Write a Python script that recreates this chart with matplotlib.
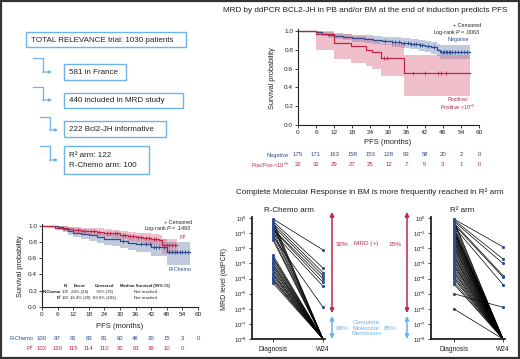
import numpy as np
import matplotlib
matplotlib.use('Agg')
import matplotlib.pyplot as plt
from matplotlib import transforms
from matplotlib.patches import Rectangle

plt.rcParams['font.family'] = ['Liberation Sans', 'DejaVu Sans']
plt.rcParams['mathtext.fontset'] = 'custom'
plt.rcParams['mathtext.rm'] = 'Liberation Sans'
plt.rcParams['mathtext.it'] = 'Liberation Sans:italic'
plt.rcParams['mathtext.bf'] = 'Liberation Sans:bold'

W, H = 520, 359
NAVY = '#2c4c8c'
RED = '#c0254a'
SKY = '#6db3e8'
INK = '#222222'

# ---- flowchart ----
flow_lines = ['TOTAL RELEVANCE trial: 1030 patients', '581 in France',
              '440 included in MRD study', '222 Bcl2-JH informative',
              'R² arm: 122\nR-Chemo arm: 100']

# ---- top KM: MRD negative vs positive ----
months = [0, 6, 12, 18, 24, 30, 36, 42, 48, 54, 60]
neg_risk = [175, 171, 163, 158, 153, 128, 93, 58, 20, 2, 0]
pos_risk = [32, 32, 29, 27, 25, 12, 7, 5, 3, 1, 0]

neg_t = [0, 6, 8, 10, 12, 15, 18, 22, 25, 28, 31, 34, 37, 40, 42, 44, 46, 47, 57]
neg_s = [1.0, 0.985, 0.97, 0.955, 0.945, 0.935, 0.925, 0.915, 0.905, 0.895, 0.885,
         0.875, 0.865, 0.855, 0.84, 0.825, 0.80, 0.78, 0.78]
neg_lo = [1.0, 0.96, 0.945, 0.925, 0.91, 0.90, 0.885, 0.87, 0.86, 0.845, 0.83,
          0.82, 0.805, 0.79, 0.775, 0.755, 0.73, 0.705, 0.705]
neg_hi = [1.0, 1.0, 0.99, 0.985, 0.975, 0.97, 0.96, 0.955, 0.945, 0.94, 0.93,
          0.92, 0.915, 0.905, 0.895, 0.88, 0.86, 0.845, 0.845]
neg_cens = [29, 31, 32, 33.5, 35, 36.5, 37.5, 38.5, 39, 40.5, 41, 43, 45, 47.5, 48,
            48.5, 49, 49.5, 50, 50.5, 51, 52, 53, 54, 55, 56]

pos_t = [0, 6, 12, 17.5, 22.5, 24.5, 27.5, 35, 57]
pos_s = [1.0, 0.969, 0.875, 0.844, 0.80, 0.78, 0.71, 0.555, 0.555]
pos_lo = [1.0, 0.80, 0.70, 0.66, 0.63, 0.60, 0.52, 0.31, 0.31]
pos_hi = [1.0, 1.0, 0.97, 0.95, 0.92, 0.90, 0.86, 0.74, 0.74]
pos_cens = [28.5, 29.5, 38, 42, 46.5, 47.5, 49]

# ---- bottom-left KM: R-Chemo vs R2 ----
rc_risk = [100, 97, 91, 83, 81, 60, 46, 30, 15, 3, 0]
r2_risk = [102, 120, 115, 114, 110, 92, 63, 39, 10, 0]

rc_t = [0, 6, 8, 10, 12, 15, 18, 21, 24, 27, 30, 33, 36, 42, 48, 57]
rc_s = [1.0, 0.98, 0.96, 0.94, 0.915, 0.90, 0.88, 0.86, 0.84, 0.83, 0.81, 0.79,
        0.77, 0.74, 0.68, 0.68]
rc_lo = [1.0, 0.95, 0.92, 0.89, 0.86, 0.84, 0.81, 0.79, 0.76, 0.745, 0.72, 0.70,
         0.68, 0.63, 0.52, 0.52]
rc_hi = [1.0, 1.0, 0.99, 0.98, 0.965, 0.955, 0.94, 0.925, 0.91, 0.90, 0.89, 0.875,
         0.86, 0.84, 0.80, 0.80]
rc_cens = [31, 38, 40, 41.5, 43, 44, 45, 47, 49, 50, 51, 52, 53, 54, 55, 56]

r2_t = [0, 3, 5, 8, 10, 12, 15, 18, 21, 24, 27, 30, 33, 36, 39, 42, 45, 46, 52]
r2_s = [1.0, 0.99, 0.975, 0.965, 0.955, 0.95, 0.94, 0.935, 0.925, 0.915, 0.905,
        0.89, 0.875, 0.865, 0.85, 0.835, 0.82, 0.76, 0.76]
r2_lo = [1.0, 0.97, 0.95, 0.935, 0.92, 0.91, 0.90, 0.89, 0.875, 0.865, 0.85,
         0.83, 0.815, 0.80, 0.78, 0.76, 0.74, 0.65, 0.65]
r2_hi = [1.0, 1.0, 0.995, 0.99, 0.985, 0.98, 0.975, 0.97, 0.965, 0.955, 0.945,
         0.935, 0.925, 0.915, 0.905, 0.895, 0.885, 0.84, 0.84]
r2_cens = [14, 16, 19, 20, 22, 25, 26, 28, 29, 31, 32, 34, 35, 37, 38, 40, 41,
           43, 44, 47, 48, 49, 50, 51]

# summary table under the bottom-left curves
tbl_head = ['N', 'Event', 'Censored', 'Median Survival (95% CI)']
tbl_rows = [('R-Chemo', ['100', '24% (24)', '76% (76)', 'Not reached']),
            ('R²', ['122', '16.4% (20)', '83.6% (102)', 'Not reached'])]

# ---- MRD levels (log10) ----
rc_dx = [-0.05, -0.15, -0.2, -0.3, -0.35, -0.45, -0.5, -0.6, -0.7, -0.75, -0.85,
         -0.95, -1.05, -1.2, -1.3, -1.45, -2.45, -2.6, -2.7, -2.85, -3.0, -3.1,
         -3.2, -3.35, -3.45, -3.6, -3.7, -3.8, -3.95, -4.05, -4.15, -4.3]
rc_w24 = [-2.1, -8, -3.3, -8, -3.6, -8, -3.8, -8, -4.0, -4.25, -8, -4.5, -8, -5.9,
          -8, -8, -8, -8, -8, -8, -8, -8, -8, -8, -8, -8, -8, -8, -8, -8, -8, -8]
r2_dx = [-0.05, -0.1, -0.12, -0.2, -0.25, -0.3, -0.4, -0.45, -0.55, -0.6, -0.7,
         -0.8, -0.85, -0.95, -1.0, -1.1, -1.2, -1.3, -1.4, -1.5, -1.55, -1.7, -1.8,
         -1.9, -2.0, -2.15, -2.25, -2.4, -2.5, -2.6, -2.75, -2.85, -3.0, -3.1, -3.2,
         -3.35, -3.5, -3.6, -3.75, -3.9, -4.0, -4.2, -4.35, -5.0, -6.0]
r2_w24 = [-1.9, -2.7, -8, -3.0, -8, -3.8, -3.9, -8, -4.4, -8, -8, -8, -8, -8, -8,
          -8, -8, -8, -8, -8, -8, -8, -8, -8, -8, -8, -8, -8, -8, -8, -8, -8, -8,
          -8, -8, -8, -8, -8, -8, -8, -8, -8, -8, -5.9, -8]
mrd_decades = [0, -1, -2, -3, -4, -5, -6, -7, -8]

fig = plt.figure(figsize=(W / 100, H / 100), dpi=100)


def px_axes(x0, y0, x1, y1):
    return fig.add_axes([x0 / W, 1 - y1 / H, (x1 - x0) / W, (y1 - y0) / H])


def style(ax):
    for side in ('top', 'right'):
        ax.spines[side].set_visible(False)
    for side in ('left', 'bottom'):
        ax.spines[side].set_linewidth(0.8)
        ax.spines[side].set_color(INK)
    ax.tick_params(labelsize=4.6, length=2, width=0.6, pad=1.5, colors=INK)


def km(ax, t, s, lo, hi, cens, color, fill, alpha):
    ax.fill_between(t, lo, hi, step='post', color=fill, alpha=alpha, lw=0)
    ax.step(t, s, where='post', color=color, lw=0.9)
    idx = np.searchsorted(t, cens, side='right') - 1
    ax.plot(cens, np.asarray(s)[idx], ls='none', marker='|', ms=2.4, mew=0.6,
            color=color)


def km_axes(ax):
    ax.set_xlim(0, 60)
    ax.set_ylim(0, 1.02)
    ax.set_xticks(months)
    ax.set_yticks([0, 0.2, 0.4, 0.6, 0.8, 1.0])
    ax.set_yticklabels(['0.0', '0.2', '0.4', '0.6', '0.8', '1.0'])
    style(ax)


def mrd(ax, dx, w24, left):
    for a, b in zip(dx, w24):
        ax.plot([0, 1], [10.0 ** a, 10.0 ** b], color='black', lw=0.5)
    ax.plot(np.zeros(len(dx)), 10.0 ** np.array(dx), 's', ms=1.1, color=NAVY)
    ax.plot(np.ones(len(w24)), 10.0 ** np.array(w24), 's', ms=1.1, color=NAVY)
    ax.set_yscale('log')
    ax.set_ylim(1e-8, 1.2)
    ax.set_xlim(left, 1.04)
    ax.set_yticks([10.0 ** d for d in mrd_decades])
    ax.set_yticklabels([r'$10^{%d}$' % d for d in mrd_decades])
    ax.minorticks_off()
    ax.set_xticks([0, 1])
    ax.set_xticklabels(['Diagnosis', 'W24'])
    style(ax)
    ax.spines['left'].set_linewidth(1.3)
    ax.spines['bottom'].set_linewidth(1.3)
    ax.tick_params(axis='y', labelsize=4.2)
    ax.tick_params(axis='x', labelsize=4.8, pad=3)


# overlay for free text, boxes and arrows (pixel coordinates)
ov = fig.add_axes([0, 0, 1, 1], zorder=5)
ov.set_xlim(0, W)
ov.set_ylim(H, 0)
ov.axis('off')

# ---------- flowchart ----------
boxes = [(26, 32, 186, 47), (64, 64, 126, 80), (64, 93, 183, 108),
         (64, 121, 166, 137), (64, 146, 149, 174)]
for (x0, y0, x1, y1), label in zip(boxes, flow_lines):
    ov.add_patch(Rectangle((x0, y0), x1 - x0, y1 - y0, fill=False,
                           edgecolor=SKY, lw=1.0))
    ov.text(x0 + 5, (y0 + y1) / 2 + 0.5, label, fontsize=5.8, color=INK,
            ha='left', va='center', linespacing=1.45)

elbows = [(33, 43, 58, 72, 52), (33, 43, 87, 100, 52),
          (40, 50, 117, 130, 58), (40, 50, 146, 160, 58)]
for xa, xb, ya, yb, xe in elbows:
    ov.plot([xa, xb, xb], [ya, ya, yb], color=SKY, lw=0.9)
    ov.annotate('', xy=(xe, yb), xytext=(xb - 0.4, yb),
                arrowprops=dict(arrowstyle='-|>', color=SKY, lw=0.9,
                                mutation_scale=4, shrinkA=0, shrinkB=0))

# ---------- top KM ----------
ax1 = px_axes(298, 29, 479, 125)
km(ax1, neg_t, neg_s, neg_lo, neg_hi, neg_cens, NAVY, '#8396bd', 0.5)
km(ax1, pos_t, pos_s, pos_lo, pos_hi, pos_cens, RED, '#d96a86', 0.42)
km_axes(ax1)
ov.text(365, 11, 'MRD by ddPCR BCL2-JH in PB and/or BM at the end of induction predicts PFS',
        fontsize=5.9, ha='center', va='center', color=INK)
ov.text(273, 78, 'Survival probability', rotation=90, fontsize=5.3,
        ha='center', va='center', color=INK)
ov.text(388, 143, 'PFS (months)', fontsize=5.5, ha='center', va='center', color=INK)
ax1.text(60.6, 1.06, '+ Censored', fontsize=3.9, ha='right', va='center', color=INK)
ax1.text(60.6, 0.985, 'Log-rank $P$ = .0063', fontsize=3.9, ha='right',
         va='center', color=INK)
ax1.text(53, 0.905, 'Negative', fontsize=3.9, ha='center', va='center', color=NAVY)
ax1.text(53, 0.27, 'Positive/', fontsize=3.9, ha='center', va='center', color=RED)
ax1.text(53, 0.185, 'Positive <10$^{-5}$', fontsize=3.9, ha='center',
         va='center', color=RED)

tr1 = transforms.blended_transform_factory(ax1.transData, ov.transData)
for m, a, b in zip(months, neg_risk, pos_risk):
    ax1.text(m, 155, str(a), transform=tr1, fontsize=4.3, ha='center',
             va='center', color=NAVY)
    ax1.text(m, 165, str(b), transform=tr1, fontsize=4.3, ha='center',
             va='center', color=RED)
ov.text(289, 155, 'Negative', fontsize=4.1, ha='right', va='center', color=NAVY)
ov.text(289, 165, 'Pos/Pos <10$^{-5}$', fontsize=4.1, ha='right', va='center',
        color=RED)

# ---------- bottom-left KM ----------
ax2 = px_axes(42, 224, 198, 307)
km(ax2, rc_t, rc_s, rc_lo, rc_hi, rc_cens, NAVY, '#8396bd', 0.5)
km(ax2, r2_t, r2_s, r2_lo, r2_hi, r2_cens, RED, '#d96a86', 0.42)
km_axes(ax2)
ov.text(20, 266, 'Survival probability', rotation=90, fontsize=5.3,
        ha='center', va='center', color=INK)
ov.text(120, 327, 'PFS (months)', fontsize=5.5, ha='center', va='center', color=INK)
ax2.text(57.7, 1.04, '+ Censored', fontsize=3.9, ha='right', va='center', color=INK)
ax2.text(57.7, 0.965, 'Log-rank $P$ = .1493', fontsize=3.9, ha='right',
         va='center', color=INK)
ax2.text(54, 0.86, 'R²', fontsize=4.3, ha='center', va='center', color=RED)
ax2.text(53, 0.46, 'R-Chemo', fontsize=3.9, ha='center', va='center', color=NAVY)

tbl_cols = [9.0, 14.6, 24.2, 39.6]
for c, h in zip(tbl_cols, tbl_head):
    ax2.text(c, 0.255, h, fontsize=3.1, fontweight='bold', ha='center',
             va='center', color=INK)
for k, (name, vals) in enumerate(tbl_rows):
    yy = 0.185 - 0.08 * k
    ax2.text(7.4, yy, name, fontsize=3.1, fontweight='bold', ha='right',
             va='center', color=INK)
    for c, v in zip(tbl_cols, vals):
        ax2.text(c, yy, v, fontsize=3.1, ha='center', va='center', color=INK)

tr2 = transforms.blended_transform_factory(ax2.transData, ov.transData)
for m, a in zip(months, rc_risk):
    ax2.text(m, 339, str(a), transform=tr2, fontsize=4.3, ha='center',
             va='center', color=NAVY)
for m, b in zip(months, r2_risk):
    ax2.text(m, 348, str(b), transform=tr2, fontsize=4.3, ha='center',
             va='center', color=RED)
ov.text(33, 339, 'R-Chemo', fontsize=4.1, ha='right', va='center', color=NAVY)
ov.text(33, 348, 'R²', fontsize=4.3, ha='right', va='center', color=RED)

# ---------- bottom-right MRD panels ----------
ov.text(370, 192, 'Complete Molecular Response in BM is more frequently reached in R² arm',
        fontsize=5.9, ha='center', va='center', color=INK)
ax3 = px_axes(252, 217, 325, 339)
mrd(ax3, rc_dx, rc_w24, -0.42)
ax4 = px_axes(431, 217, 505, 339)
mrd(ax4, r2_dx, r2_w24, -0.46)
ov.text(264, 210, 'R-Chemo arm', fontsize=5.8, ha='left', va='center', color=INK)
ov.text(462, 210, 'R² arm', fontsize=5.8, ha='center', va='center', color=INK)
ov.text(225, 279, 'MRD level (ddPCR)', rotation=90, fontsize=5.0,
        ha='center', va='center', color=INK)

for xa in (332, 407):
    ov.annotate('', xy=(xa, 212), xytext=(xa, 313),
                arrowprops=dict(arrowstyle='<|-|>', color=RED, lw=1.1,
                                mutation_scale=6, shrinkA=0, shrinkB=0))
    ov.annotate('', xy=(xa, 316), xytext=(xa, 339),
                arrowprops=dict(arrowstyle='<|-|>', color=SKY, lw=1.1,
                                mutation_scale=6, shrinkA=0, shrinkB=0))
ov.text(342, 244, '32%', fontsize=4.6, ha='center', va='center', color=RED)
ov.text(366, 244, 'MRD (+)', fontsize=4.6, ha='center', va='center', color=RED)
ov.text(395, 244, '15%', fontsize=4.6, ha='center', va='center', color=RED)
ov.text(342, 328, '68%', fontsize=4.6, ha='center', va='center', color=SKY)
ov.text(366, 328, 'Complete\nMolecular\nRemission', fontsize=4.6, ha='center',
        va='center', color=SKY, linespacing=1.2)
ov.text(390, 328, '85%', fontsize=4.6, ha='center', va='center', color=SKY)

# frame round the whole picture
ov.add_patch(Rectangle((0.7, 0.7), W - 1.4, H - 1.4, fill=False,
                       edgecolor='#333333', lw=1.6))

fig.savefig('out.png', dpi=100)
